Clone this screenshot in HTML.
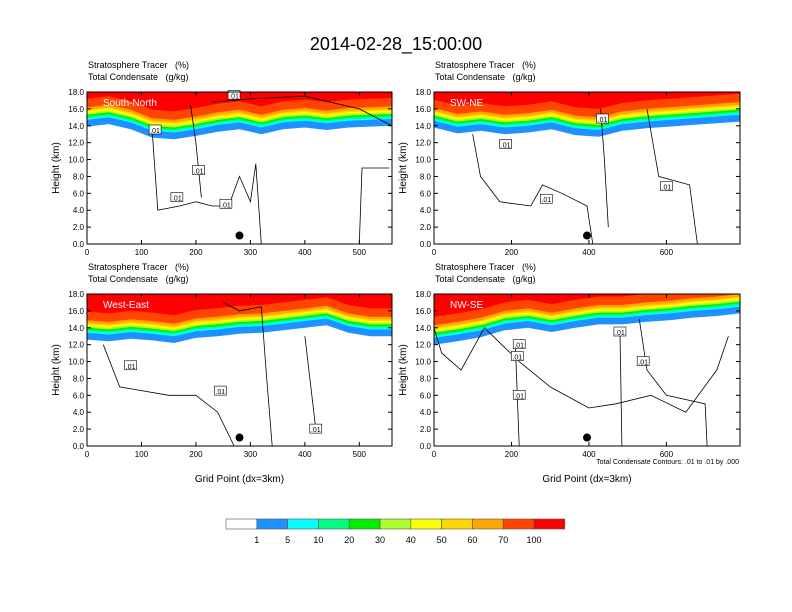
<!DOCTYPE html>
<html><head><meta charset="utf-8"><style>
html,body{margin:0;padding:0;background:#fff;}
svg{display:block;font-family:"Liberation Sans",sans-serif;}
</style></head><body>
<svg id="fig" width="792" height="612" viewBox="0 0 792 612">
<text x="396" y="50" font-size="18" text-anchor="middle">2014-02-28_15:00:00</text>
<g id="panels"></g>
<g id="cbar"></g>
</svg>
<script>
// ---- data ----
const colorLevels = ["1","5","10","20","30","40","50","60","70","100"];
const colorFills = ["#ffffff","#1e90ff","#00ffff","#00ff7f","#00ee00","#adff2f","#ffff00","#ffd700","#ffa500","#ff4500","#ff0000"];
const bandThickness = [0.8,0.2,0.2,0.2,0.2,0.2,0.2,0.3,1.0]; // km above tracer base for each colour layer
const yTicks = [0,2,4,6,8,10,12,14,16,18];
const panelNames = ["South-North","SW-NE","West-East","NW-SE"];
const panelXMax = [560,790,560,790];
const panelXTicks = [[0,100,200,300,400,500],[0,200,400,600],[0,100,200,300,400,500],[0,200,400,600]];
const baseTL = [13.9,14.2,13.6,12.6,12.4,12.8,13.3,13.6,13.0,13.6,13.8,13.5,13.8,13.9,14.0];
const baseTR = [13.8,13.1,13.4,13.0,13.2,13.6,12.9,12.7,13.4,13.7,13.9,14.1,14.3,14.5];
const baseBL = [12.6,12.4,12.7,12.5,12.2,12.8,13.0,13.3,13.4,13.7,14.0,14.3,13.4,13.0,13.0];
const baseBR = [12.0,12.4,12.9,13.7,14.0,13.5,14.0,14.4,14.4,14.7,14.9,15.2,15.4,15.7];
const panelBases = [baseTL,baseTR,baseBL,baseBR];
const dotX = [280,395,280,395];
const dotY = [1.0,1.0,1.0,1.0];
const contourTL = [[[120,13],[130,4],[170,4.5],[200,5],[230,4.5],[260,4.5],[280,8],[300,5],[310,9.5],[320,0]],[[190,16.5],[200,12],[210,5.5]],[[230,16.8],[300,17.2],[400,17.5],[500,16],[560,14]],[[500,0],[505,9],[555,9]]];
const contourTR = [[[100,13],[120,8],[170,5],[250,4.5],[280,7],[330,6],[395,4.5],[410,0]],[[430,16],[440,10],[450,2]],[[550,16],[580,8],[660,7],[680,0]]];
const contourBL = [[[30,12],[60,7],[150,6],[200,6],[240,4],[270,0]],[[250,17],[280,16],[320,16.5],[330,8],[340,0]],[[400,13],[420,2]]];
const contourBR = [[[0,14],[20,11],[70,9],[130,14],[220,10],[300,7],[400,4.5],[470,5],[560,6],[650,4],[730,9],[760,13]],[[210,12],[215,6],[220,0]],[[480,14],[485,0]],[[530,15],[550,9],[600,6],[700,5],[705,0]]];
const panelContours = [contourTL,contourTR,contourBL,contourBR];
const labelTL = [[125,13.5],[205,8.7],[165,5.5],[255,4.7],[270,17.6]];
const labelTR = [[185,11.8],[290,5.3],[435,14.8],[600,6.8]];
const labelBL = [[80,9.5],[245,6.5],[420,2]];
const labelBR = [[220,12],[215,10.6],[220,6],[480,13.5],[540,10]];
const panelLabels = [labelTL,labelTR,labelBL,labelBR];
// ---- layout ----
const boxes = [[87,92,305,152],[434,92,306,152],[87,294,305,152],[434,294,306,152]];
const NS="http://www.w3.org/2000/svg";
function mk(tag,attrs,parent){const e=document.createElementNS(NS,tag);for(const k in attrs)e.setAttribute(k,attrs[k]);parent.appendChild(e);return e;}
const P=document.getElementById('panels');
boxes.forEach((b,i)=>{
  const [x0,y0,w,h]=b;
  const g=mk('g',{},P);
  
  
  const xs=v=>x0+v/panelXMax[i]*w;
  const ys=v=>y0+h-v/18*h;
  const base=panelBases[i];
  const n=base.length;
  const xAt=k=>k/(n-1)*panelXMax[i];
  let off=0;
  for(let L=0;L<=bandThickness.length;L++){
    let d='M'+xs(0)+','+ys(18);
    for(let k=0;k<n;k++){d+=' L'+xs(xAt(k)).toFixed(1)+','+ys(Math.min(18,base[k]+off)).toFixed(1);}
    d+=' L'+xs(panelXMax[i])+','+ys(18)+'Z';
    const p=mk('path',{d:d,fill:colorFills[L+1]},g);
    
    
    if(L<bandThickness.length) off+=bandThickness[L];
  }
  panelContours[i].forEach((c,j)=>{
    const pts=c.map(q=>xs(q[0]).toFixed(1)+','+ys(q[1]).toFixed(1)).join(' ');
    const pl=mk('polyline',{points:pts,fill:'none',stroke:'#000','stroke-width':0.8},g);
    
    
  });
  panelLabels[i].forEach(q=>{
    const r=mk('rect',{x:xs(q[0])-6,y:ys(q[1])-5,width:12,height:9,fill:'#fff',stroke:'#000','stroke-width':0.6},g);
    
    
    const t=mk('text',{x:xs(q[0]),y:ys(q[1])+3,'font-size':7,'text-anchor':'middle'},g);
    t.textContent='.01';
    
    
  });
  const dot=mk('circle',{cx:xs(dotX[i]),cy:ys(dotY[i]),r:4,fill:'#000'},g);
  
  
  const fr=mk('rect',{x:x0,y:y0,width:w,height:h,fill:'none',stroke:'#000','stroke-width':1},g);
  
  
  yTicks.forEach(v=>{
    mk('line',{x1:x0,x2:x0+4,y1:ys(v),y2:ys(v),stroke:'#000'},g);
    mk('line',{x1:x0+w,x2:x0+w-4,y1:ys(v),y2:ys(v),stroke:'#000'},g);
    const t=mk('text',{x:x0-3,y:ys(v)+3,'font-size':8,'text-anchor':'end'},g);
    t.textContent=v.toFixed(1);
    
    
  });
  panelXTicks[i].forEach(v=>{
    mk('line',{x1:xs(v),x2:xs(v),y1:y0+h,y2:y0+h-4,stroke:'#000'},g);
    mk('line',{x1:xs(v),x2:xs(v),y1:y0,y2:y0+4,stroke:'#000'},g);
    const t=mk('text',{x:xs(v),y:y0+h+11,'font-size':8,'text-anchor':'middle'},g);
    t.textContent=v;
    
    
  });
  const yt=mk('text',{x:0,y:0,'font-size':10,'text-anchor':'middle',transform:'translate('+(x0-28)+','+(y0+h/2)+') rotate(-90)'},g);
  yt.textContent='Height (km)';
  
  
  const s1=mk('text',{x:x0+1,y:y0-24,'font-size':9},g);
  s1.textContent='Stratosphere Tracer\u00a0\u00a0\u00a0(%)';
  
  
  const s2=mk('text',{x:x0+1,y:y0-12,'font-size':9},g);
  s2.textContent='Total Condensate\u00a0\u00a0\u00a0(g/kg)';
  
  
  const pn=mk('text',{x:x0+16,y:y0+14,'font-size':10,fill:'#fff'},g);
  pn.textContent=panelNames[i];
  
  
  if(i>=2){
    const xt=mk('text',{x:x0+w/2,y:y0+h+36,'font-size':10,'text-anchor':'middle'},g);
    xt.textContent='Grid Point (dx=3km)';
    
    
  }
});
const note=mk('text',{x:739,y:464,'font-size':7,'text-anchor':'end'},P);
note.textContent='Total Condensate Contours: .01 to .01 by .000';


const C=document.getElementById('cbar');
const cw=30.8;
colorFills.forEach((c,k)=>{
  const r=mk('rect',{x:226+k*cw,y:519,width:cw,height:10,fill:c,stroke:'#555','stroke-width':0.6},C);
  
  
});
colorLevels.forEach((l,k)=>{
  const t=mk('text',{x:226+(k+1)*cw,y:543,'font-size':9,'text-anchor':'middle'},C);
  t.textContent=l;
  
  
});
</script>
</body></html>
